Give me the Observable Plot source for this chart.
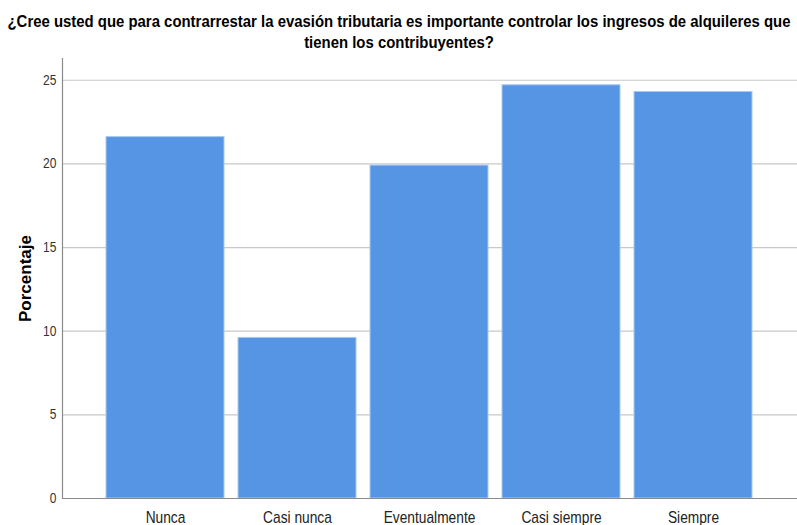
<!DOCTYPE html>
<html><head><meta charset="utf-8">
<script src="https://cdn.jsdelivr.net/npm/d3@7"></script>
<script src="https://cdn.jsdelivr.net/npm/@observablehq/plot@0.6"></script>
<style>
body{margin:0;background:#fff;width:797px;height:525px;overflow:hidden;}
#titlewrap{width:797px;height:51px;overflow:visible;position:relative;}
#title{position:absolute;left:-151px;width:1100px;font-family:"Liberation Sans",Arial,sans-serif;font-weight:bold;font-size:17px;line-height:21px;color:#000;top:11px;text-align:center;transform:scaleX(0.877);transform-origin:550px 0;}
</style></head><body>
<div id="titlewrap"><div id="title">¿Cree usted que para contrarrestar la evasión tributaria es importante controlar los ingresos de alquileres que<br>tienen los contribuyentes?</div></div>
<div id="chart"></div>
<script>
const categories = ["Nunca", "Casi nunca", "Eventualmente", "Casi siempre", "Siempre"];
const values = [21.6, 9.6, 19.9, 24.7, 24.3];
const yTicks = [0, 5, 10, 15, 20, 25];
const data = categories.map((c, i) => ({cat: c, pct: values[i]}));

const chart = Plot.plot({
  width: 797,
  height: 474,
  marginLeft: 62,
  marginRight: 0,
  marginTop: 7,
  marginBottom: 27,
  style: {fontFamily: "Liberation Sans, Arial, sans-serif", background: "#fff", overflow: "visible"},
  x: {domain: categories, paddingInner: 0.106, paddingOuter: 0.337, label: null},
  y: {domain: [0, 26.3], label: null},
  marks: [
    Plot.gridY(yTicks, {stroke: "#c8c8c8", strokeOpacity: 1, strokeWidth: 1.2}),
    Plot.barY(data, {x: "cat", y: "pct", fill: "#5694e4", stroke: "#a9c9f2", strokeWidth: 1}),
    Plot.frame({anchor: "left", stroke: "#8a8a8a", strokeWidth: 1.2}),
    Plot.ruleY([0], {stroke: "#8a8a8a", strokeWidth: 1.2}),
    Plot.axisY(yTicks, {tickSize: 0, tickPadding: 6, fontSize: 14, fill: "#333", label: null}),
    Plot.axisX({tickSize: 0, tickPadding: 13, fontSize: 16, fill: "#222", label: null}),
    Plot.text(["Porcentaje"], {frameAnchor: "left", textAnchor: "middle", dx: -37, rotate: -90, fontWeight: "bold", fontSize: 17, fill: "#000", letterSpacing: 0.8})
  ]
});
chart.querySelectorAll("[aria-label='x-axis tick label'] text, [aria-label='y-axis tick label'] text").forEach(t => {
  const tr = t.getAttribute("transform") || "";
  t.setAttribute("transform", tr + " scale(0.86,1)");
});
document.getElementById("chart").appendChild(chart);
</script>
</body></html>
